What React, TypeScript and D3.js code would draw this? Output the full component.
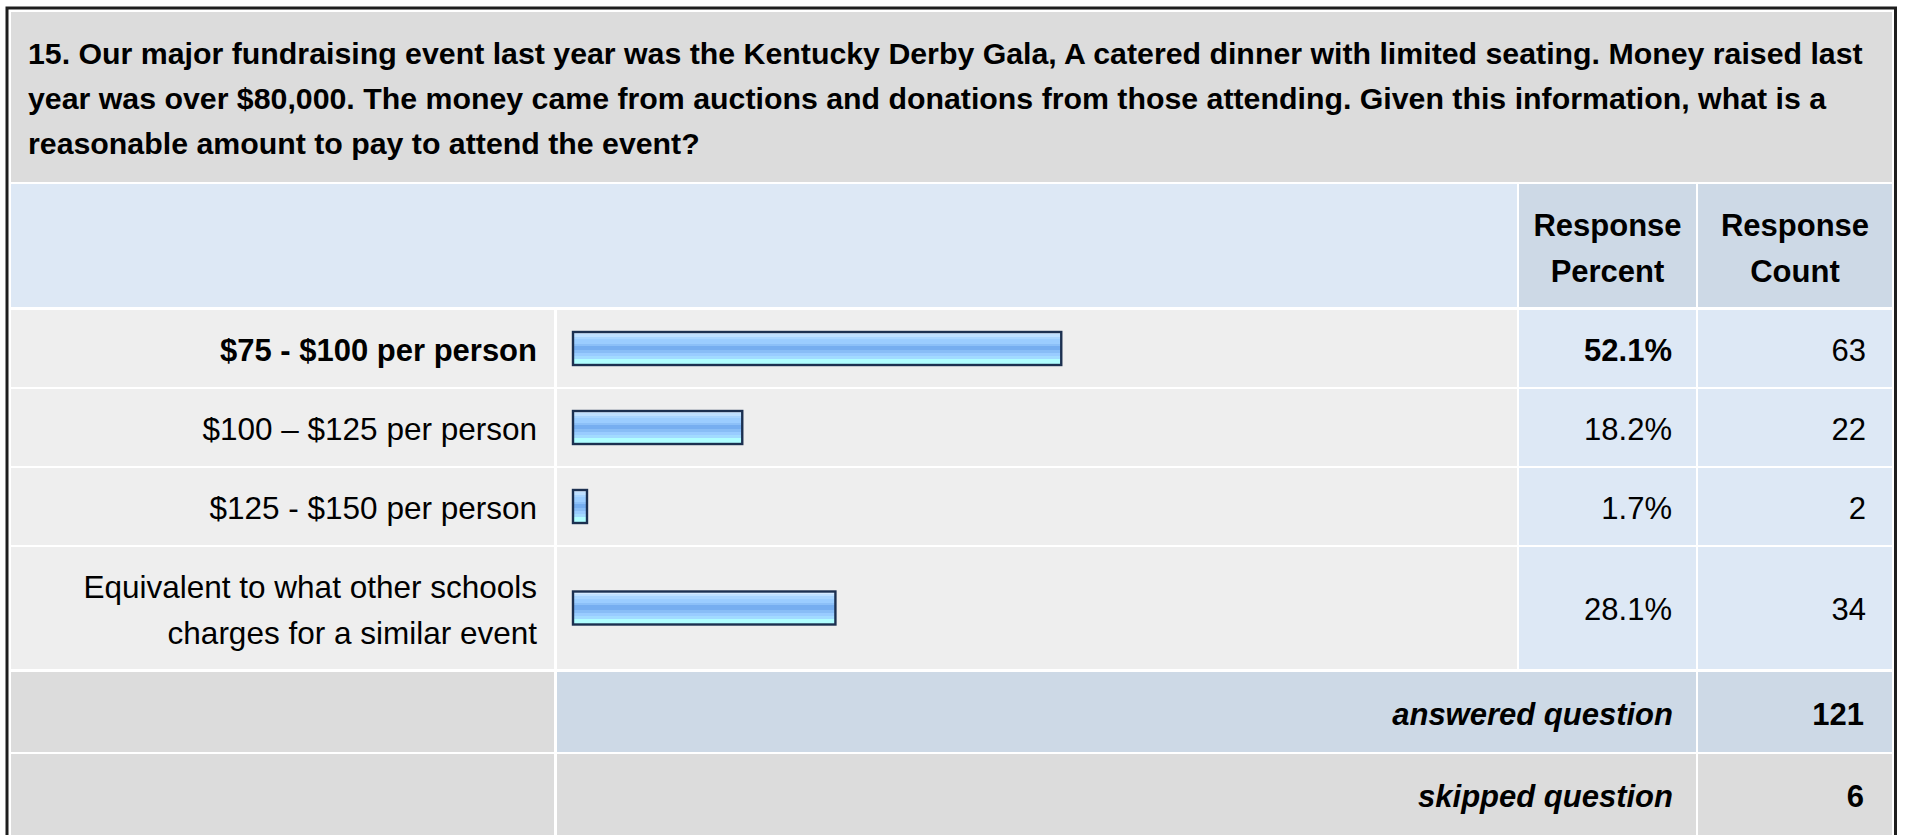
import React, { useEffect, useRef } from 'react';
import * as d3 from 'd3';

// question text, already broken into the lines shown
const titleLines = [
  '15. Our major fundraising event last year was the Kentucky Derby Gala, A catered dinner with limited seating. Money raised last',
  'year was over $80,000. The money came from auctions and donations from those attending. Given this information, what is a',
  'reasonable amount to pay to attend the event?',
];
const headerPercent = ['Response', 'Percent'];
const headerCount = ['Response', 'Count'];

const choices = [
  ['$75 - $100 per person'],
  ['$100 – $125 per person'],
  ['$125 - $150 per person'],
  ['Equivalent to what other schools', 'charges for a similar event'],
];
const percents = [52.1, 18.2, 1.7, 28.1];
const counts = [63, 22, 2, 34];
const topChoice = 0;

const answeredCount = 121;
const skippedCount = 6;

const FONT = '"Liberation Sans", Arial, Helvetica, sans-serif';

const App: React.FC = () => {
  const svgRef = useRef<SVGSVGElement>(null);

  useEffect(() => {
    if (!svgRef.current) return;
    const width = 1907;
    const height = 835;
    const svg = d3.select(svgRef.current);
    svg.selectAll('*').remove();

    // column edges
    const col = {
      label: [11, 554],
      bar: [557, 1517],
      pct: [1519, 1696],
      cnt: [1698, 1892],
    };
    const lineH = 46;

    // gradient for the bars
    const grad = svg
      .append('defs')
      .append('linearGradient')
      .attr('id', 'barGrad')
      .attr('x1', 0)
      .attr('y1', 0)
      .attr('x2', 0)
      .attr('y2', 1);
    const stops: [number, string][] = [
      [0, '#d4e9ff'],
      [0.07, '#d4e9ff'],
      [0.07, '#bfe0ff'],
      [0.14, '#bfe0ff'],
      [0.14, '#a9d5ff'],
      [0.22, '#a9d5ff'],
      [0.22, '#9bcdff'],
      [0.36, '#9bcdff'],
      [0.36, '#8cc0f8'],
      [0.42, '#8cc0f8'],
      [0.42, '#76aef0'],
      [0.56, '#76aef0'],
      [0.56, '#88bdf6'],
      [0.64, '#88bdf6'],
      [0.64, '#99ccff'],
      [0.74, '#99ccff'],
      [0.74, '#a2dbff'],
      [0.82, '#a2dbff'],
      [0.82, '#b0feff'],
      [1, '#b0feff'],
    ];
    stops.forEach(([o, c]) => grad.append('stop').attr('offset', o).attr('stop-color', c));

    svg.append('rect').attr('width', width).attr('height', height).attr('fill', '#ffffff');

    const cell = (x0: number, x1: number, y0: number, y1: number, fill: string) =>
      svg
        .append('rect')
        .attr('x', x0)
        .attr('y', y0)
        .attr('width', x1 - x0)
        .attr('height', y1 - y0)
        .attr('fill', fill);

    const text = (
      x: number,
      y: number,
      s: string,
      anchor: string,
      opts: { size?: number; weight?: string; style?: string } = {}
    ) =>
      svg
        .append('text')
        .attr('x', x)
        .attr('y', y)
        .attr('text-anchor', anchor)
        .attr('font-family', FONT)
        .attr('font-size', opts.size || 31)
        .attr('font-weight', opts.weight || 'normal')
        .attr('font-style', opts.style || 'normal')
        .attr('fill', '#000')
        .text(s);

    // title block
    cell(11, 1892, 12, 182, '#dcdcdc');
    titleLines.forEach((l, i) => text(28, 64 + i * 45, l, 'start', { size: 30.3, weight: 'bold' }));

    // header row
    const hTop = 184;
    const hBot = 307;
    cell(col.label[0], col.bar[1], hTop, hBot, '#dde8f5');
    cell(col.pct[0], col.pct[1], hTop, hBot, '#cdd9e6');
    cell(col.cnt[0], col.cnt[1], hTop, hBot, '#cdd9e6');
    const hMid = (hTop + hBot) / 2;
    headerPercent.forEach((l, i) =>
      text((col.pct[0] + col.pct[1]) / 2, hMid - lineH / 2 + i * lineH + 13, l, 'middle', { weight: 'bold' })
    );
    headerCount.forEach((l, i) =>
      text((col.cnt[0] + col.cnt[1]) / 2, hMid - lineH / 2 + i * lineH + 13, l, 'middle', { weight: 'bold' })
    );

    // bar scale
    const x = d3.scaleLinear().domain([0, 100]).range([572, 1513]);

    let y = 310;
    choices.forEach((lines, i) => {
      const h = lines.length > 1 ? 122 : 77;
      const y0 = y;
      const y1 = y + h;
      const mid = (y0 + y1) / 2;
      const bold = i === topChoice;
      cell(col.label[0], col.label[1], y0, y1, '#eeeeee');
      cell(col.bar[0], col.bar[1], y0, y1, '#eeeeee');
      cell(col.pct[0], col.pct[1], y0, y1, '#dde8f5');
      cell(col.cnt[0], col.cnt[1], y0, y1, '#dde8f5');

      lines.forEach((l, j) =>
        text(col.label[1] - 17, mid - ((lines.length - 1) * lineH) / 2 + j * lineH + 12.5, l, 'end', {
          weight: bold ? 'bold' : 'normal',
          size: bold ? 31 : 31.5,
        })
      );

      const bh = 35;
      svg
        .append('rect')
        .attr('x', x(0) + 1)
        .attr('y', mid - bh / 2 + 1)
        .attr('width', Math.max(x(percents[i]) - x(0) - 2, 2))
        .attr('height', bh - 2)
        .attr('fill', 'url(#barGrad)')
        .attr('stroke', '#1c3050')
        .attr('stroke-width', 2.4);

      text(col.pct[1] - 24, mid + 12, `${percents[i]}%`, 'end', { weight: bold ? 'bold' : 'normal' });
      text(col.cnt[1] - 26, mid + 12, String(counts[i]), 'end');
      y = y1 + 2;
    });

    // answered / skipped
    const aTop = y + 1;
    const aBot = aTop + 80;
    cell(col.label[0], col.label[1], aTop, aBot, '#dcdcdc');
    cell(col.bar[0], col.pct[1], aTop, aBot, '#cdd9e6');
    cell(col.cnt[0], col.cnt[1], aTop, aBot, '#cdd9e6');
    const aMid = (aTop + aBot) / 2;
    text(col.pct[1] - 23, aMid + 13, 'answered question', 'end', { weight: 'bold', style: 'italic' });
    text(col.cnt[1] - 28, aMid + 13, String(answeredCount), 'end', { weight: 'bold' });

    const sTop = aBot + 2;
    const sBot = sTop + 86;
    cell(col.label[0], col.label[1], sTop, sBot, '#dcdcdc');
    cell(col.bar[0], col.pct[1], sTop, sBot, '#dcdcdc');
    cell(col.cnt[0], col.cnt[1], sTop, sBot, '#dcdcdc');
    const sMid = (sTop + sBot) / 2;
    text(col.pct[1] - 23, sMid + 10, 'skipped question', 'end', { weight: 'bold', style: 'italic' });
    text(col.cnt[1] - 28, sMid + 10, String(skippedCount), 'end', { weight: 'bold' });

    // outer frame
    svg
      .append('rect')
      .attr('x', 7)
      .attr('y', 8)
      .attr('width', 1888.5)
      .attr('height', 850)
      .attr('fill', 'none')
      .attr('stroke', '#1e1e1e')
      .attr('stroke-width', 3);
  }, []);

  return (
    <svg
      ref={svgRef}
      width={1907}
      height={835}
      style={{ position: 'absolute', left: 0, top: 0, display: 'block' }}
    ></svg>
  );
};

export default App;
